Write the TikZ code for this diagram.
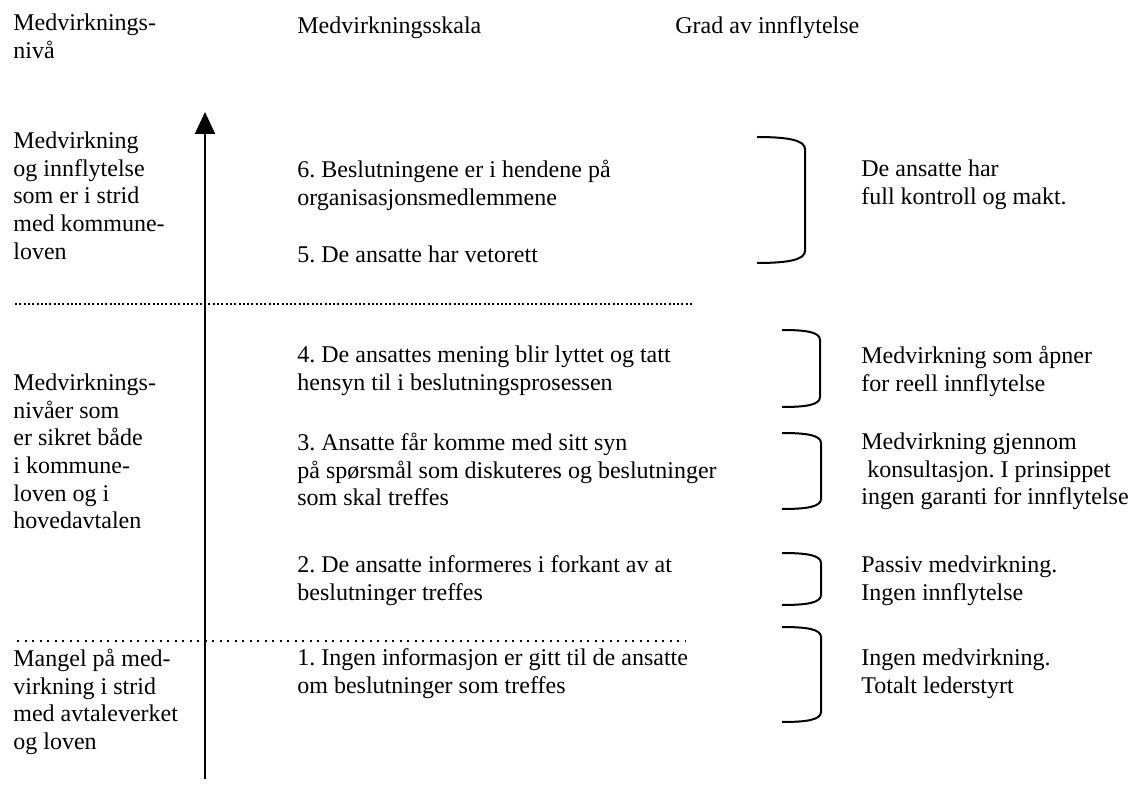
\documentclass[tikz,border=0pt]{standalone}
\usepackage{fontspec}
\setmainfont{Liberation Serif}
\usepackage{tikz}
\usetikzlibrary{arrows.meta, calc}
\frenchspacing

\tikzset{
  tekst/.style={anchor=north west, inner sep=0pt, align=left, yshift=9.66pt,
    font=\fontsize{12}{13.8}\selectfont, execute at begin node=\strut},
  klamme/.style={line width=1pt},
  akse/.style={line width=1pt, -{Triangle[width=10pt, length=11pt]}},
}

\begin{document}
\begin{tikzpicture}[x=0.5pt, y=-0.5pt]
  \useasboundingbox (0,0) rectangle (1132,802);

  % overskrifter
  \node[tekst] (hode1) at (13,33) {Medvirknings-\\nivå};
  \node[tekst] (hode2) at (297,33) {Medvirkningsskala};
  \node[tekst] (hode3) at (675,33) {Grad av innflytelse};

  % aksen
  \coordinate (bunn) at (205,779);
  \coordinate (topp) at (205,112);
  \draw[akse] (bunn) -- (topp);

  % skillelinjer
  \coordinate (s1a) at (15,304);
  \coordinate (s1b) at (693,304);
  \draw[line width=1pt, dash pattern=on 1pt off 1.15pt] (s1a) -- (s1b);
  \coordinate (s2a) at (17,641);
  \coordinate (s2b) at (686,641);
  \draw[line width=1.1pt, dash pattern=on 1.1pt off 2.65pt] (s2a) -- (s2b);

  % venstre kolonne
  \node[tekst] (venstre1) at (13,151)
    {Medvirkning\\og innflytelse\\som er i strid\\med kommune-\\loven};
  \node[tekst] (venstre2) at (13,393)
    {Medvirknings-\\nivåer som\\er sikret både\\i kommune-\\loven og i\\hovedavtalen};
  \node[tekst] (venstre3) at (13,668)
    {Mangel på med-\\virkning i strid\\med avtaleverket\\og loven};

  % skalaen
  \node[tekst] (skala6) at (297,179)
    {6. Beslutningene er i hendene på\\organisasjonsmedlemmene};
  \node[tekst] (skala5) at (297,262) {5. De ansatte har vetorett};
  \node[tekst] (skala4) at (297,365)
    {4. De ansattes mening blir lyttet og tatt\\hensyn til i beslutningsprosessen};
  \node[tekst] (skala3) at (297,452)
    {3. Ansatte får komme med sitt syn\\på spørsmål som diskuteres og beslutninger\\som skal treffes};
  \node[tekst] (skala2) at (297,575)
    {2. De ansatte informeres i forkant av at\\beslutninger treffes};
  \node[tekst] (skala1) at (297,668)
    {1. Ingen informasjon er gitt til de ansatte\\om beslutninger som treffes};

  % klammer
  \draw[klamme] (757,137) .. controls (787,137) and (805,140) .. (805,149)
    -- (805,251) .. controls (805,260) and (787,263) .. (757,263);
  \draw[klamme] (782,330) .. controls (806,330) and (820,332) .. (820,340)
    -- (820,397) .. controls (820,405) and (806,407) .. (782,407);
  \draw[klamme] (782,433) .. controls (806,433) and (821,435) .. (821,443)
    -- (821,499) .. controls (821,507) and (806,509) .. (782,509);
  \draw[klamme] (782,553) .. controls (806,553) and (821,555) .. (821,563)
    -- (821,595) .. controls (821,603) and (806,605) .. (782,605);
  \draw[klamme] (782,627) .. controls (806,627) and (821,629) .. (821,637)
    -- (821,712) .. controls (821,720) and (806,722) .. (782,722);

  % grad av innflytelse
  \node[tekst] (grad6) at (861,179) {De ansatte har\\full kontroll og makt.};
  \node[tekst] (grad4) at (861,365) {Medvirkning som åpner\\for reell innflytelse};
  \node[tekst] (grad3) at (861,452)
    {Medvirkning gjennom\\\hspace{3pt}konsultasjon. I prinsippet\\ingen garanti for innflytelse};
  \node[tekst] (grad2) at (861,575) {Passiv medvirkning.\\Ingen innflytelse};
  \node[tekst] (grad1) at (861,668) {Ingen medvirkning.\\Totalt lederstyrt};
\end{tikzpicture}
\end{document}
